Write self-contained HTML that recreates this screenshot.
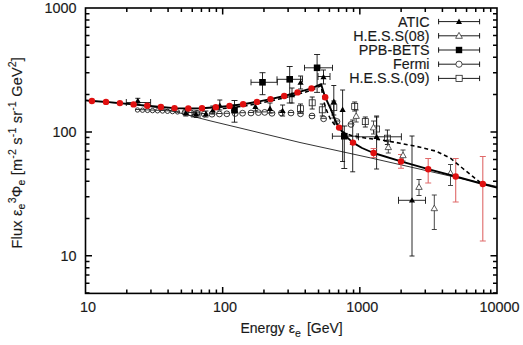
<!DOCTYPE html><html><head><meta charset="utf-8"><style>html,body{margin:0;padding:0;background:#fff}svg{display:block}</style></head><body><svg width="523" height="345" viewBox="0 0 523 345">
<rect width="523" height="345" fill="#fff"/>
<polyline points="85.5,100.4 133.0,104.5 160.0,107.8 178.0,112.5 210.0,120.8 240.0,128.0 300.0,142.5 371.0,158.0 455.7,177.3 497.0,186.5" fill="none" stroke="#000" stroke-width="0.8"/>
<path d="M137.8 98.3V104.0M135.3 98.3h5.0M135.3 104.0h5.0M185.8 110.0V116.0M183.3 110.0h5.0M183.3 116.0h5.0M196.0 111.0V117.5M193.5 111.0h5.0M193.5 117.5h5.0M205.9 111.0V117.0M203.4 111.0h5.0M203.4 117.0h5.0M212.8 106.0V114.0M210.3 106.0h5.0M210.3 114.0h5.0M219.8 100.0V110.0M217.3 100.0h5.0M217.3 110.0h5.0M234.0 105.0V113.0M231.5 105.0h5.0M231.5 113.0h5.0M255.4 102.0V111.0M252.9 102.0h5.0M252.9 111.0h5.0M270.0 103.0V113.0M267.5 103.0h5.0M267.5 113.0h5.0M282.6 105.0V116.0M280.1 105.0h5.0M280.1 116.0h5.0M292.0 88.0V103.0M289.5 88.0h5.0M289.5 103.0h5.0M300.6 76.0V89.0M298.1 76.0h5.0M298.1 89.0h5.0M323.5 70.0V84.0M321.0 70.0h5.0M321.0 84.0h5.0M333.8 85.5V118.0M331.3 85.5h5.0M331.3 118.0h5.0M342.6 90.0V161.5M340.1 90.0h5.0M340.1 161.5h5.0M352.7 120.0V171.8M350.2 120.0h5.0M350.2 171.8h5.0M376.6 117.0V169.0M374.1 117.0h5.0M374.1 169.0h5.0M412.0 136.0V256.0M409.5 136.0h5.0M409.5 256.0h5.0M126.3 102.5H150.6M126.3 99.0v7.0M150.6 99.0v7.0M358.5 136.8H401.4M358.5 133.3v7.0M401.4 133.3v7.0M398.5 200.3H425.5M398.5 196.8v7.0M425.5 196.8v7.0M318.0 76.5H330.0M318.0 73.0v7.0M330.0 73.0v7.0M192.0 114.3H200.0M192.0 110.8v7.0M200.0 110.8v7.0M234.5 100.5V122.2M231.5 100.5h6M231.5 122.2h6M262.5 72.7V94.7M259.5 72.7h6M259.5 94.7h6M289.7 66.5V103.0M286.7 66.5h6M286.7 103.0h6M317.1 54.5V92.4M314.1 54.5h6M314.1 92.4h6M344.3 126.0V168.5M341.3 126.0h6M341.3 168.5h6M251.0 82.3H277.3M251.0 79.3v6M277.3 79.3v6M277.0 79.3H302.5M277.0 76.3v6M302.5 76.3v6M304.5 67.8H332.5M304.5 64.8v6M332.5 64.8v6M332.4 136.2H357.0M332.4 133.2v6M357.0 133.2v6M300.5 104.0V113.0M298.0 104.0h5.0M298.0 113.0h5.0M312.2 97.0V109.0M309.7 97.0h5.0M309.7 109.0h5.0M322.3 104.0V116.0M319.8 104.0h5.0M319.8 116.0h5.0M333.8 101.0V115.0M331.3 101.0h5.0M331.3 115.0h5.0M354.7 102.0V111.0M352.2 102.0h5.0M352.2 111.0h5.0M365.3 117.0V127.0M362.8 117.0h5.0M362.8 127.0h5.0M376.6 116.0V138.0M374.1 116.0h5.0M374.1 138.0h5.0M387.4 130.0V144.5M384.9 130.0h5.0M384.9 144.5h5.0" fill="none" stroke="#111" stroke-width="0.9"/>
<path d="M356.2 110.0V122.0M353.7 110.0h5.0M353.7 122.0h5.0M373.5 121.0V134.0M371.0 121.0h5.0M371.0 134.0h5.0M388.3 140.0V153.0M385.8 140.0h5.0M385.8 153.0h5.0M403.0 150.0V161.0M400.5 150.0h5.0M400.5 161.0h5.0M419.0 179.5V195.5M416.5 179.5h5.0M416.5 195.5h5.0M434.3 195.0V229.5M431.8 195.0h5.0M431.8 229.5h5.0M450.5 164.5V185.5M448.0 164.5h5.0M448.0 185.5h5.0" fill="none" stroke="#333" stroke-width="0.9"/>
<path d="M373.6 148.5V157.5M370.6 148.5h6M370.6 157.5h6M401.0 154.5V168.2M398.0 154.5h6M398.0 168.2h6M428.2 158.5V183.0M425.2 158.5h6M425.2 183.0h6M455.7 158.5V202.0M452.7 158.5h6M452.7 202.0h6M482.8 156.5V241.0M479.8 156.5h6M479.8 241.0h6" fill="none" stroke="#e06a6a" stroke-width="1.1"/>
<g fill="none" stroke="#222" stroke-width="0.9"><circle cx="137.5" cy="110.0" r="2.2"/><circle cx="142.5" cy="110.2" r="2.2"/><circle cx="147.5" cy="110.4" r="2.2"/><circle cx="152.5" cy="110.6" r="2.2"/><circle cx="157.5" cy="110.8" r="2.2"/><circle cx="162.5" cy="111.0" r="2.2"/><circle cx="167.5" cy="111.3" r="2.2"/><circle cx="172.5" cy="111.6" r="2.2"/><circle cx="177.5" cy="111.9" r="2.2"/><circle cx="185.0" cy="112.5" r="2.9"/><circle cx="191.0" cy="113.0" r="2.9"/><circle cx="197.0" cy="113.3" r="2.9"/><circle cx="204.3" cy="114.0" r="2.9"/><circle cx="212.0" cy="114.2" r="2.9"/><circle cx="219.4" cy="114.0" r="2.9"/><circle cx="226.8" cy="113.8" r="2.9"/><circle cx="235.2" cy="113.5" r="2.9"/><circle cx="242.6" cy="113.2" r="2.9"/><circle cx="251.0" cy="113.0" r="2.9"/><circle cx="258.4" cy="112.6" r="2.9"/><circle cx="264.7" cy="112.4" r="2.9"/><circle cx="272.0" cy="113.3" r="2.9"/><circle cx="281.5" cy="113.0" r="2.9"/><circle cx="291.0" cy="113.0" r="2.9"/><circle cx="300.5" cy="113.8" r="2.9"/><circle cx="312.0" cy="116.0" r="2.9"/><circle cx="323.6" cy="118.8" r="2.9"/><circle cx="337.0" cy="121.5" r="2.9"/><circle cx="351.0" cy="124.4" r="2.9"/><path d="M135.3 109.5h4.4"/><path d="M140.3 109.7h4.4"/><path d="M145.3 109.9h4.4"/><path d="M150.3 110.1h4.4"/><path d="M155.3 110.3h4.4"/><path d="M160.3 110.5h4.4"/><path d="M165.3 110.8h4.4"/><path d="M170.3 111.1h4.4"/><path d="M175.3 111.4h4.4"/><path d="M182.1 112.0h5.8"/><path d="M188.1 112.5h5.8"/><path d="M194.1 112.8h5.8"/><path d="M201.4 113.5h5.8"/><path d="M209.1 113.7h5.8"/><path d="M216.5 113.5h5.8"/><path d="M223.9 113.3h5.8"/><path d="M232.3 113.0h5.8"/><path d="M239.7 112.7h5.8"/><path d="M248.1 112.5h5.8"/><path d="M255.5 112.1h5.8"/><path d="M261.8 111.9h5.8"/><path d="M269.1 112.8h5.8"/><path d="M278.6 112.5h5.8"/><path d="M288.1 112.5h5.8"/><path d="M297.6 113.3h5.8"/><path d="M309.1 115.5h5.8"/><path d="M320.7 118.3h5.8"/><path d="M334.1 121.0h5.8"/><path d="M348.1 123.9h5.8"/></g>
<g fill="none" stroke="#222" stroke-width="0.8"><rect x="297.5" y="105.7" width="6" height="6"/><rect x="309.2" y="99.8" width="6" height="6"/><rect x="319.3" y="106.8" width="6" height="6"/><rect x="330.8" y="104.6" width="6" height="6"/><rect x="351.7" y="103.4" width="6" height="6"/><rect x="362.3" y="118.6" width="6" height="6"/><rect x="373.6" y="126.0" width="6" height="6"/><rect x="384.4" y="135.2" width="6" height="6"/></g>
<path d="M356.2 112.8L359.4 118.4H353.0ZM373.5 124.3L376.7 129.9H370.3ZM388.3 144.0L391.5 149.6H385.1ZM403.0 152.1L406.2 157.7H399.8ZM419.0 183.8L422.2 189.4H415.8ZM434.3 205.1L437.5 210.7H431.1ZM450.5 169.8L453.7 175.4H447.3Z" fill="#fff" stroke="#333" stroke-width="0.8"/>
<polyline points="215.8,109.2 229.5,107.8 243.1,106.2 256.9,103.8 270.5,101.0 284.2,97.9 297.5,94.3 311.5,90.3 321.3,85.5 322.5,95.0 323.9,101.7 325.8,108.3 328.4,114.8 331.0,120.0 335.0,125.2 340.0,130.0 345.0,133.2 352.0,135.8 365.0,138.0 380.0,139.8 400.0,143.2 420.3,147.2 436.5,151.3 450.7,158.4 462.9,168.5 473.0,176.7 481.1,183.2 483.0,184.3" fill="none" stroke="#000" stroke-width="1.6" stroke-dasharray="4,3"/>
<polyline points="85.5,100.4 91.9,101.0 106.0,101.9 119.9,103.1 133.6,104.4 147.2,105.7 160.9,107.0 174.5,108.1 188.3,108.5 202.0,108.3 215.8,107.3 229.5,105.9 243.1,104.3 256.9,101.9 270.5,99.1 284.2,96.0 297.5,92.4 311.5,88.4 321.1,84.2 325.2,97.2 331.0,109.6 335.0,120.0 338.9,127.5 344.9,135.4 353.0,142.6 362.0,148.0 373.6,153.0 401.0,161.4 428.2,169.2 455.7,176.5 482.8,184.0 497.0,187.6" fill="none" stroke="#000" stroke-width="1.9" stroke-linejoin="round"/>
<path d="M137.8 97.7L140.9 103.1H134.7ZM185.8 109.9L188.9 115.3H182.7ZM196.0 111.2L199.1 116.6H192.9ZM205.9 110.9L209.0 116.3H202.8ZM212.8 107.2L215.9 112.6H209.7ZM219.8 102.4L222.9 107.8H216.7ZM234.0 105.9L237.1 111.3H230.9ZM255.4 103.6L258.5 109.0H252.3ZM270.0 105.5L273.1 110.9H266.9ZM282.6 107.7L285.7 113.1H279.5ZM292.0 91.9L295.1 97.3H288.9ZM300.6 79.4L303.7 84.8H297.5ZM323.5 73.9L326.6 79.3H320.4ZM333.8 98.5L336.9 103.9H330.7ZM342.6 106.5L345.7 111.9H339.5ZM352.7 139.4L355.8 144.8H349.6ZM376.6 133.7L379.7 139.1H373.5ZM412.0 197.2L415.1 202.6H408.9Z" fill="#000"/>
<g fill="#000"><rect x="231.2" y="106.4" width="6.6" height="6.6"/><rect x="259.2" y="79.0" width="6.6" height="6.6"/><rect x="286.4" y="76.0" width="6.6" height="6.6"/><rect x="313.8" y="64.5" width="6.6" height="6.6"/><rect x="341.0" y="132.9" width="6.6" height="6.6"/></g>
<g fill="#e01010"><circle cx="91.9" cy="101.0" r="3.2"/><circle cx="106.0" cy="101.9" r="3.2"/><circle cx="119.9" cy="103.1" r="3.2"/><circle cx="133.6" cy="104.4" r="3.2"/><circle cx="147.2" cy="105.7" r="3.2"/><circle cx="160.9" cy="107.0" r="3.2"/><circle cx="174.5" cy="108.1" r="3.2"/><circle cx="188.3" cy="108.5" r="3.2"/><circle cx="202.0" cy="108.3" r="3.2"/><circle cx="215.8" cy="107.3" r="3.2"/><circle cx="229.5" cy="105.9" r="3.2"/><circle cx="243.1" cy="104.3" r="3.2"/><circle cx="256.9" cy="101.9" r="3.2"/><circle cx="270.5" cy="99.1" r="3.2"/><circle cx="284.2" cy="96.0" r="3.2"/><circle cx="297.5" cy="92.4" r="3.2"/><circle cx="311.5" cy="88.4" r="3.2"/><circle cx="325.2" cy="97.2" r="3.2"/><circle cx="339.1" cy="127.6" r="3.2"/><circle cx="353.0" cy="142.6" r="3.2"/><circle cx="373.6" cy="153.0" r="3.2"/><circle cx="401.0" cy="161.4" r="3.2"/><circle cx="428.2" cy="169.2" r="3.2"/><circle cx="455.7" cy="176.5" r="3.2"/><circle cx="482.8" cy="184.0" r="3.2"/></g>
<path d="M126.79 293.4v-4M126.79 8.0v4M150.95 293.4v-4M150.95 8.0v4M168.08 293.4v-4M168.08 8.0v4M181.38 293.4v-4M181.38 8.0v4M192.24 293.4v-4M192.24 8.0v4M201.42 293.4v-4M201.42 8.0v4M209.37 293.4v-4M209.37 8.0v4M216.39 293.4v-4M216.39 8.0v4M263.96 293.4v-4M263.96 8.0v4M288.11 293.4v-4M288.11 8.0v4M305.25 293.4v-4M305.25 8.0v4M318.54 293.4v-4M318.54 8.0v4M329.40 293.4v-4M329.40 8.0v4M338.59 293.4v-4M338.59 8.0v4M346.54 293.4v-4M346.54 8.0v4M353.56 293.4v-4M353.56 8.0v4M401.12 293.4v-4M401.12 8.0v4M425.28 293.4v-4M425.28 8.0v4M442.42 293.4v-4M442.42 8.0v4M455.71 293.4v-4M455.71 8.0v4M466.57 293.4v-4M466.57 8.0v4M475.75 293.4v-4M475.75 8.0v4M483.71 293.4v-4M483.71 8.0v4M490.72 293.4v-4M490.72 8.0v4M222.67 293.4v-6.5M222.67 8.0v6.5M359.83 293.4v-6.5M359.83 8.0v6.5M85.5 293.10h4M497.0 293.10h-4M85.5 283.29h4M497.0 283.29h-4M85.5 274.99h4M497.0 274.99h-4M85.5 267.81h4M497.0 267.81h-4M85.5 261.47h4M497.0 261.47h-4M85.5 255.80h6.5M497.0 255.80h-6.5M85.5 218.50h4M497.0 218.50h-4M85.5 196.68h4M497.0 196.68h-4M85.5 181.20h4M497.0 181.20h-4M85.5 169.20h4M497.0 169.20h-4M85.5 159.39h4M497.0 159.39h-4M85.5 151.09h4M497.0 151.09h-4M85.5 143.91h4M497.0 143.91h-4M85.5 137.57h4M497.0 137.57h-4M85.5 131.90h6.5M497.0 131.90h-6.5M85.5 94.60h4M497.0 94.60h-4M85.5 72.78h4M497.0 72.78h-4M85.5 57.30h4M497.0 57.30h-4M85.5 45.30h4M497.0 45.30h-4M85.5 35.49h4M497.0 35.49h-4M85.5 27.19h4M497.0 27.19h-4M85.5 20.01h4M497.0 20.01h-4M85.5 13.67h4M497.0 13.67h-4M85.5 293.10h4M497.0 293.10h-4M85.5 283.29h4M497.0 283.29h-4M85.5 274.99h4M497.0 274.99h-4M85.5 267.81h4M497.0 267.81h-4M85.5 261.47h4M497.0 261.47h-4" stroke="#000" stroke-width="1.5" fill="none"/>
<rect x="85.5" y="8.0" width="411.5" height="285.4" fill="none" stroke="#000" stroke-width="1.6"/>
<path d="M438.6 21.6H479.6M438.6 18.9v5.4M479.6 18.9v5.4M438.6 35.8H479.6M438.6 33.1v5.4M479.6 33.1v5.4M438.6 50.0H479.6M438.6 47.3v5.4M479.6 47.3v5.4M438.6 64.2H479.6M438.6 61.5v5.4M479.6 61.5v5.4M438.6 78.4H479.6M438.6 75.7v5.4M479.6 75.7v5.4" fill="none" stroke="#000" stroke-width="0.9"/>
<path d="M459.0 18.6L462.0 23.9H456.0Z" fill="#000"/>
<path d="M459.0 32.4L462.4 38.3H455.6Z" fill="#fff" stroke="#333" stroke-width="0.8"/>
<rect x="455.8" y="46.8" width="6.4" height="6.4" fill="#000"/>
<circle cx="459" cy="64.2" r="3.1" fill="#fff" stroke="#222" stroke-width="0.8"/>
<rect x="456" y="75.3" width="6.2" height="6.2" fill="#fff" stroke="#222" stroke-width="0.8"/>
<g style="font-family:'Liberation Sans',sans-serif" font-size="14.3" fill="#1a1a1a" stroke="#1a1a1a" stroke-width="0.15" text-anchor="end">
<text x="429.5" y="26.6">ATIC</text>
<text x="429.5" y="40.8">H.E.S.S(08)</text>
<text x="429.5" y="55.0">PPB-BETS</text>
<text x="429.5" y="69.2">Fermi</text>
<text x="429.5" y="83.4">H.E.S.S.(09)</text>
</g>
<g style="font-family:'Liberation Sans',sans-serif" font-size="14.4" fill="#1a1a1a" stroke="#1a1a1a" stroke-width="0.15">
<text x="76.5" y="12.7" text-anchor="end">1000</text>
<text x="76.5" y="136.6" text-anchor="end">100</text>
<text x="76.5" y="260.5" text-anchor="end">10</text>
<text x="87.9" y="312.2" text-anchor="middle">10</text>
<text x="225.1" y="312.2" text-anchor="middle">100</text>
<text x="362.2" y="312.2" text-anchor="middle">1000</text>
<text x="499.4" y="312.2" text-anchor="middle">10000</text>
</g>
<text style="font-family:'Liberation Sans',sans-serif" font-size="14" fill="#1a1a1a" stroke="#1a1a1a" stroke-width="0.15" x="240.5" y="333.3">Energy ε<tspan font-size="10.5" dy="4">e</tspan><tspan dy="-4" dx="2.2"> [GeV]</tspan></text>
<text style="font-family:'Liberation Sans',sans-serif" font-size="14.5" fill="#1a1a1a" stroke="#1a1a1a" stroke-width="0.15" letter-spacing="0.2" transform="translate(22.1,248.5) rotate(-90)">Flux ε<tspan font-size="10.5" dy="3">e</tspan><tspan font-size="10.5" dy="-9">3</tspan><tspan dy="6">Φ</tspan><tspan font-size="10.5" dy="3">e</tspan><tspan dy="-3"> [m</tspan><tspan font-size="10.5" dy="-6">-2</tspan><tspan dy="6"> s</tspan><tspan font-size="10.5" dy="-6">-1</tspan><tspan dy="6"> sr</tspan><tspan font-size="10.5" dy="-6">-1</tspan><tspan dy="6"> GeV</tspan><tspan font-size="10.5" dy="-6">2</tspan><tspan dy="6">]</tspan></text></svg></body></html>
